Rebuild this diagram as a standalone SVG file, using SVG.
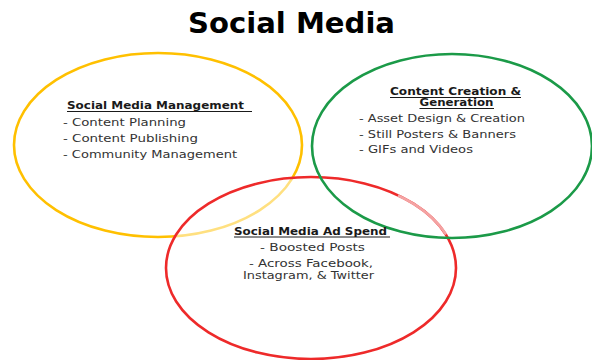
<svg xmlns="http://www.w3.org/2000/svg" width="592" height="360" viewBox="0 0 592 360">
<style>
.title{font-family:"DejaVu Sans",Verdana,sans-serif;font-weight:bold;font-size:29px;fill:#000}
.h{font-family:"DejaVu Sans",Verdana,sans-serif;font-weight:bold;font-size:10.5px;fill:#1a1a1a}
.t{font-family:"DejaVu Sans",Verdana,sans-serif;font-size:10.5px;fill:#333}
.ul{stroke:#1a1a1a;stroke-width:1}
.ring{stroke-width:2.6}
</style>
<rect width="592" height="360" fill="#fff"/>
<text class="title" x="188" y="33" textLength="207" lengthAdjust="spacingAndGlyphs">Social Media</text>

<g id="yellow">
<ellipse class="ring" cx="158" cy="145" rx="144" ry="92" fill="none" stroke="#FFC000"/>
</g>
<g id="red">
<ellipse class="ring" cx="311" cy="268" rx="145" ry="91" fill="#fff" fill-opacity="0.5" stroke="#EE2A2A"/>
<path class="ring" d="M398,195.5 A145,91 0 0 1 446,234.5" fill="none" stroke="#F4A3A3"/>
</g>
<g id="green">
<ellipse class="ring" cx="452" cy="146" rx="140" ry="92" fill="none" stroke="#1B9A48"/>
</g>

<g id="node-management">
<text class="h" x="67" y="109" textLength="177" lengthAdjust="spacingAndGlyphs">Social Media Management</text>
<line class="ul" x1="67" y1="111.5" x2="252" y2="111.5"/>
<text class="t" x="63" y="125.5" textLength="123" lengthAdjust="spacingAndGlyphs">- Content Planning</text>
<text class="t" x="63" y="141.5" textLength="135" lengthAdjust="spacingAndGlyphs">- Content Publishing</text>
<text class="t" x="63" y="157.5" textLength="174" lengthAdjust="spacingAndGlyphs">- Community Management</text>
</g>

<g id="node-creation">
<text class="h" x="390" y="95" textLength="131" lengthAdjust="spacingAndGlyphs">Content Creation &amp;</text>
<line class="ul" x1="390" y1="97.5" x2="521" y2="97.5"/>
<text class="h" x="419.5" y="106" textLength="74" lengthAdjust="spacingAndGlyphs">Generation</text>
<line class="ul" x1="419.5" y1="108.5" x2="494" y2="108.5"/>
<text class="t" x="359" y="121.5" textLength="166" lengthAdjust="spacingAndGlyphs">- Asset Design &amp; Creation</text>
<text class="t" x="359" y="137.5" textLength="157" lengthAdjust="spacingAndGlyphs">- Still Posters &amp; Banners</text>
<text class="t" x="359" y="153.3" textLength="114" lengthAdjust="spacingAndGlyphs">- GIFs and Videos</text>
</g>

<g id="node-adspend">
<text class="h" x="234" y="234.5" textLength="153" lengthAdjust="spacingAndGlyphs">Social Media Ad Spend</text>
<line class="ul" x1="234" y1="237" x2="390" y2="237"/>
<text class="t" x="260" y="251" textLength="105" lengthAdjust="spacingAndGlyphs">- Boosted Posts</text>
<text class="t" x="249" y="266.5" textLength="124" lengthAdjust="spacingAndGlyphs">- Across Facebook,</text>
<text class="t" x="243" y="278.5" textLength="131" lengthAdjust="spacingAndGlyphs">Instagram, &amp; Twitter</text>
</g>

<g id="connectors"></g>
</svg>
